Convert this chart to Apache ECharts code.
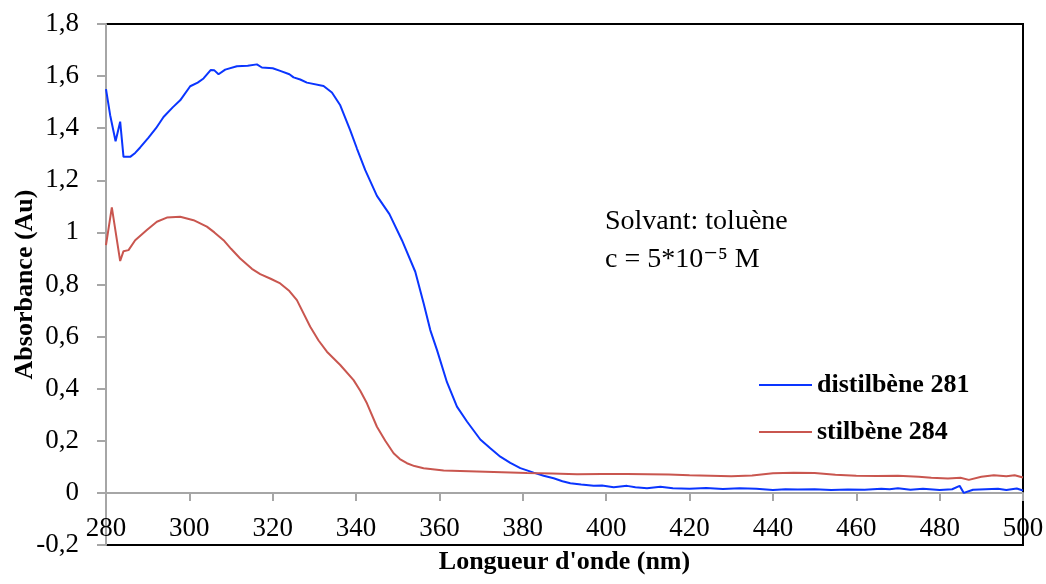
<!DOCTYPE html>
<html>
<head>
<meta charset="utf-8">
<script src="https://cdn.jsdelivr.net/npm/echarts@6/dist/echarts.min.js"></script>
<style>html,body{margin:0;padding:0;background:#fff;}#c{width:1046px;height:584px;}</style>
</head>
<body>
<div id="c"></div>
<script>
const xTicks = { min: 280, max: 500, interval: 20 };
const yTicks = { min: -0.2, max: 1.8, interval: 0.2 };

const blueName = 'distilbène 281';
const blueNm = [280,281,282.3,283.4,284.2,285.8,287,288.2,290.2,292,293.8,296,297.8,300.2,302,303.4,305.1,306,307,308.6,311.4,314,316.2,317.4,320,321.8,324,325,326.6,328.2,332.2,334.2,336.2,338.6,340.2,342.2,345,348,351,354.2,356.2,357.8,359.4,361.8,364.2,366.6,369.8,372.2,374.6,377,379.4,382.6,385,387.4,389.5,391.4,394,397,399,401.8,405,407,409.8,413,416,420,424,428,432,436,440,443,446,450,454,458,462,466,468,470,473,476,480,483,484.8,485.8,488,491,494,496,498.5,500];
const blueAbs = [1.55,1.45,1.35,1.425,1.29,1.29,1.305,1.326,1.364,1.40,1.443,1.48,1.507,1.561,1.575,1.591,1.623,1.622,1.607,1.625,1.638,1.640,1.645,1.633,1.63,1.62,1.607,1.595,1.587,1.575,1.562,1.537,1.488,1.392,1.322,1.239,1.14,1.07,0.97,0.849,0.728,0.625,0.549,0.425,0.331,0.274,0.205,0.171,0.139,0.115,0.095,0.078,0.066,0.056,0.045,0.037,0.032,0.027,0.028,0.022,0.027,0.022,0.018,0.024,0.018,0.016,0.019,0.015,0.018,0.016,0.011,0.014,0.013,0.014,0.011,0.013,0.012,0.016,0.014,0.018,0.012,0.016,0.011,0.014,0.027,0.0,0.012,0.014,0.016,0.011,0.017,0.009];

const redName = 'stilbène 284';
const redNm = [280,281.4,283.4,284.2,285.4,287,289.8,292.2,294.6,297.8,301,304.2,306,308.2,310,312.2,315,317,319.5,321.8,324,325.8,329,331,333,336.2,339.4,341,342.6,345,347,349,350.5,352.2,354,356.2,361,365,369,375,381,387,393,399,405,410,415,420,425,430,435,440,445,450,455,460,465,470,475,478,482,485,487,490,493,496,498,500];
const redAbs = [0.951,1.096,0.89,0.928,0.932,0.97,1.009,1.041,1.057,1.06,1.047,1.022,1.0,0.97,0.937,0.9,0.86,0.84,0.822,0.804,0.775,0.74,0.638,0.585,0.542,0.491,0.433,0.392,0.344,0.254,0.2,0.152,0.13,0.114,0.103,0.095,0.086,0.084,0.082,0.079,0.076,0.074,0.072,0.073,0.073,0.072,0.071,0.068,0.066,0.064,0.067,0.075,0.077,0.076,0.07,0.066,0.065,0.066,0.062,0.058,0.055,0.058,0.05,0.062,0.068,0.064,0.068,0.059];

const xTitle = "Longueur d'onde (nm)";
const yTitle = 'Absorbance (Au)';
const noteLine1 = 'Solvant: toluène';
const noteLine2 = 'c = 5*10⁻⁵ M';

const zip = (a, b) => a.map((v, i) => [v, b[i]]);
const SERIF = '"Liberation Serif", "DejaVu Serif", serif';

const chart = echarts.init(document.getElementById('c'), null, { renderer: 'canvas' });
chart.setOption({
  backgroundColor: '#fff',
  animation: false,
  grid: { left: 106, right: 23, top: 24, bottom: 39, containLabel: false, outerBoundsMode: 'none',
          show: true, borderColor: '#000', borderWidth: 2, backgroundColor: 'transparent' },
  xAxis: {
    type: 'value', min: xTicks.min, max: xTicks.max, interval: xTicks.interval,
    axisLine: { onZero: true, lineStyle: { color: '#a6a6a6', width: 2 } },
    axisTick: { show: true, inside: false, length: 8, lineStyle: { color: '#a6a6a6', width: 2 } },
    splitLine: { show: false },
    axisLabel: { margin: -30, color: '#000', fontFamily: SERIF, fontSize: 27, showMinLabel: true, showMaxLabel: true },
    name: xTitle, nameLocation: 'middle', nameGap: 4, nameMoveOverlap: false,
    nameTextStyle: { fontFamily: SERIF, fontWeight: 'bold', fontSize: 26, color: '#000' }
  },
  yAxis: {
    type: 'value', min: yTicks.min, max: yTicks.max, interval: yTicks.interval,
    axisLine: { show: true, onZero: false, lineStyle: { color: '#a6a6a6', width: 2 } },
    axisTick: { show: true, inside: false, length: 9, lineStyle: { color: '#a6a6a6', width: 2 } },
    splitLine: { show: false },
    axisLabel: {
      margin: 27, color: '#000', fontFamily: SERIF, fontSize: 27,
      formatter: v => String(parseFloat(v.toFixed(1))).replace('.', ',')
    },
    name: yTitle, nameLocation: 'middle', nameGap: 68, nameRotate: 90, nameMoveOverlap: false,
    nameTextStyle: { fontFamily: SERIF, fontWeight: 'bold', fontSize: 26, color: '#000' }
  },
  legend: {
    orient: 'vertical', left: 754, top: 367, itemWidth: 53, itemHeight: 14, itemGap: 21,
    icon: 'path://M0,6 L53,6 L53,8 L0,8 Z',
    textStyle: { fontFamily: SERIF, fontWeight: 'bold', fontSize: 26, color: '#000' },
    data: [blueName, redName]
  },
  series: [
    { name: blueName, type: 'line', data: zip(blueNm, blueAbs), showSymbol: false, symbol: 'none',
      lineStyle: { color: '#0a35ff', width: 2 }, itemStyle: { color: '#0a35ff' } },
    { name: redName, type: 'line', data: zip(redNm, redAbs), showSymbol: false, symbol: 'none',
      lineStyle: { color: '#c9564f', width: 2 }, itemStyle: { color: '#c9564f' } }
  ],
  graphic: [
    { type: 'text', left: 605, top: 203, style: { text: noteLine1 + '\n' + noteLine2, font: '28px ' + SERIF, lineHeight: 38, fill: '#000' } }
  ]
});
</script>
</body>
</html>
